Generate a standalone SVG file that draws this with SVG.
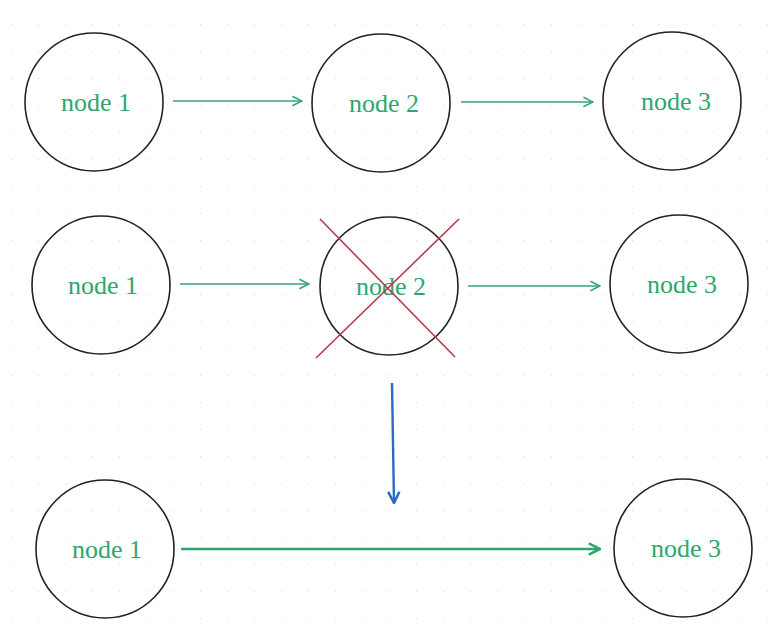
<svg xmlns="http://www.w3.org/2000/svg" width="774" height="643" viewBox="0 0 774 643">
<style>
.n circle{fill:none;stroke:#222;stroke-width:1.6}
.n text{font-family:"Liberation Serif","Times New Roman",serif;font-size:26px;fill:#2ea66c;text-anchor:middle;dominant-baseline:central}
.c{stroke:#33a673;stroke-width:1.5;fill:none;marker-end:url(#ag)}
.x{stroke:#b83a48;stroke-width:1.6}
</style>
<defs>
<pattern id="grid" x="11" y="24" width="27" height="27" patternUnits="userSpaceOnUse">
<circle cx="0.5" cy="0.5" r="0.7" fill="#cfe2f3"/>
</pattern>
<marker id="ag" viewBox="0 0 10 10" refX="9" refY="5" markerWidth="12" markerHeight="12" markerUnits="userSpaceOnUse" orient="auto">
<path d="M1 1 L9 5 L1 9" fill="none" stroke="#33a673" stroke-width="1.3"/>
</marker>
<marker id="ag2" viewBox="0 0 10 10" refX="9" refY="5" markerWidth="14" markerHeight="14" markerUnits="userSpaceOnUse" orient="auto">
<path d="M1 1 L9 5 L1 9" fill="none" stroke="#2ea66c" stroke-width="1.8"/>
</marker>
<marker id="ab" viewBox="0 0 10 10" refX="9" refY="5" markerWidth="14" markerHeight="14" markerUnits="userSpaceOnUse" orient="auto">
<path d="M1 1 L9 5 L1 9" fill="none" stroke="#2a6bc4" stroke-width="1.8"/>
</marker>
</defs>
<rect width="774" height="643" fill="#fff"/>
<rect width="774" height="643" fill="url(#grid)"/>
<g id="r1n1" class="n"><circle cx="94" cy="102" r="69"/><text x="96" y="102">node 1</text></g>
<g id="r1n2" class="n"><circle cx="381" cy="103" r="69"/><text x="384" y="103">node 2</text></g>
<g id="r1n3" class="n"><circle cx="672" cy="101" r="69"/><text x="676" y="101">node 3</text></g>
<g id="r2n1" class="n"><circle cx="101" cy="285" r="69"/><text x="103" y="285">node 1</text></g>
<g id="r2n2" class="n"><circle cx="389" cy="286" r="69"/><text x="391" y="286">node 2</text></g>
<g id="r2n3" class="n"><circle cx="679" cy="284" r="69"/><text x="682" y="284">node 3</text></g>
<g id="r3n1" class="n"><circle cx="105" cy="549" r="69"/><text x="107" y="549">node 1</text></g>
<g id="r3n3" class="n"><circle cx="683" cy="548" r="69"/><text x="686" y="548">node 3</text></g>
<g id="cross">
<line class="x" x1="320" y1="219" x2="455" y2="357"/>
<line class="x" x1="459" y1="219" x2="316" y2="358"/>
</g>
<g id="connectors">
<line class="c" x1="173" y1="101" x2="302" y2="101"/>
<line class="c" x1="461" y1="102" x2="593" y2="102"/>
<line class="c" x1="180" y1="284" x2="309" y2="284"/>
<line class="c" x1="468" y1="286" x2="600" y2="286"/>
<line x1="392" y1="383" x2="394" y2="503" stroke="#2a6bc4" stroke-width="2.4" marker-end="url(#ab)"/>
<line x1="181" y1="549" x2="600" y2="549" stroke="#2ea66c" stroke-width="2.6" marker-end="url(#ag2)"/>
</g>
</svg>
